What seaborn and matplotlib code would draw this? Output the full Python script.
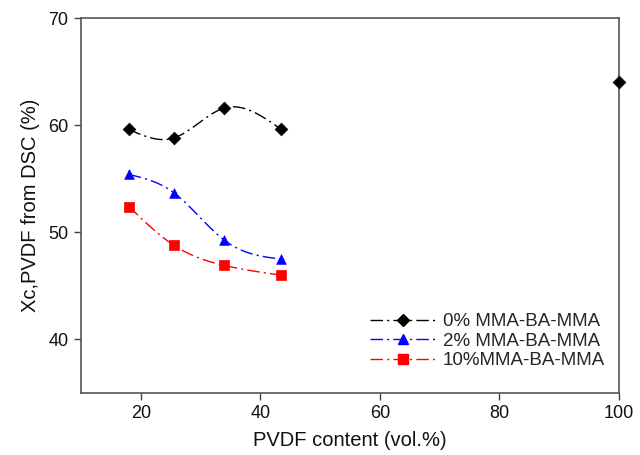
import numpy as np
import pandas as pd
import matplotlib
matplotlib.use("Agg")
import matplotlib.pyplot as plt
import seaborn as sns
from matplotlib.lines import Line2D

# PVDF content (vol.%) and crystallinity Xc (%) from DSC
pvdf_blend = [18, 25.5, 34, 43.5]
xc_0 = [59.6, 58.8, 61.6, 59.6]
xc_2 = [55.4, 53.7, 49.25, 47.5]
xc_10 = [52.4, 48.8, 46.9, 46.0]
pvdf_neat = [100]
xc_neat = [64.0]

labels = ["0% MMA-BA-MMA", "2% MMA-BA-MMA", "10%MMA-BA-MMA"]
colors = ["black", "#0000ff", "#ff0000"]
markers = ["D", "^", "s"]
xticks = [20, 40, 60, 80, 100]
yticks = [40, 50, 60, 70]


def natural_spline(x, y, n=200):
    """Natural cubic spline through (x, y), evaluated on n points."""
    x = np.asarray(x, float)
    y = np.asarray(y, float)
    k = len(x)
    h = np.diff(x)
    A = np.zeros((k, k))
    b = np.zeros(k)
    A[0, 0] = A[-1, -1] = 1
    for i in range(1, k - 1):
        A[i, i - 1] = h[i - 1]
        A[i, i] = 2 * (h[i - 1] + h[i])
        A[i, i + 1] = h[i]
        b[i] = 6 * ((y[i + 1] - y[i]) / h[i] - (y[i] - y[i - 1]) / h[i - 1])
    M = np.linalg.solve(A, b)
    xs = np.linspace(x[0], x[-1], n)
    idx = np.clip(np.searchsorted(x, xs) - 1, 0, k - 2)
    x0, x1 = x[idx], x[idx + 1]
    hh = x1 - x0
    t0 = x1 - xs
    t1 = xs - x0
    ys = (M[idx] * t0 ** 3 + M[idx + 1] * t1 ** 3) / (6 * hh) \
        + (y[idx] / hh - M[idx] * hh / 6) * t0 \
        + (y[idx + 1] / hh - M[idx + 1] * hh / 6) * t1
    return xs, ys


sns.set_theme(style="ticks")
plt.rcParams["font.family"] = ["Liberation Sans", "DejaVu Sans"]

fig = plt.figure(figsize=(6.4, 4.55), dpi=100)
ax = fig.add_axes([0.1266, 0.1363, 0.8406, 0.8241])

dashdot = (0, (9, 3, 1.5, 3))
series = [xc_0, xc_2, xc_10]
handles = []
for vals, lab, col, mk in zip(series, labels, colors, markers):
    xs, ys = natural_spline(pvdf_blend, vals)
    curve = pd.DataFrame({"x": xs, "y": ys})
    sns.lineplot(data=curve, x="x", y="y", ax=ax, color=col, lw=1.0,
                 linestyle=dashdot, sort=False, estimator=None)
    pts = pd.DataFrame({"x": pvdf_blend, "y": vals})
    ms = 42 if mk != "^" else 48
    sns.scatterplot(data=pts, x="x", y="y", ax=ax, color=col, marker=mk,
                    s=ms, edgecolor=col, linewidth=0.5, zorder=3)
    handles.append(Line2D([0], [0], color=col, lw=1.0, linestyle=dashdot,
                          marker=mk, markersize=6.5, markerfacecolor=col,
                          markeredgecolor=col, label=lab))

neat = pd.DataFrame({"x": pvdf_neat, "y": xc_neat})
sns.scatterplot(data=neat, x="x", y="y", ax=ax, color="black", marker="D",
                s=42, edgecolor="black", linewidth=0.5, zorder=4, clip_on=False)

ax.set_xlim(10, 100)
ax.set_ylim(35, 70)
ax.set_xticks(xticks)
ax.set_yticks(yticks)
ax.set_xticklabels([str(t) for t in xticks])
ax.set_yticklabels([str(t) for t in yticks])
ax.set_xlabel("PVDF content (vol.%)", fontsize=14.5, color="#111111", labelpad=6)
ax.set_ylabel("Xc,PVDF from DSC (%)", fontsize=14.5, color="#111111", labelpad=6)
ax.tick_params(axis="both", which="both", direction="out", length=5, width=1,
               color="#444444", labelsize=13, labelcolor="#111111", pad=4,
               top=False, right=False)

for side in ["top", "right", "left", "bottom"]:
    ax.spines[side].set_visible(True)
    ax.spines[side].set_color("#555555")
    ax.spines[side].set_linewidth(1.2)

ax.legend(handles=handles, loc="upper left", bbox_to_anchor=(0.537, 0.213),
          frameon=False, fontsize=13.5, handlelength=3.5, handletextpad=0.4,
          labelspacing=0.13, borderaxespad=0, borderpad=0)

fig.savefig("out.png", dpi=100)
